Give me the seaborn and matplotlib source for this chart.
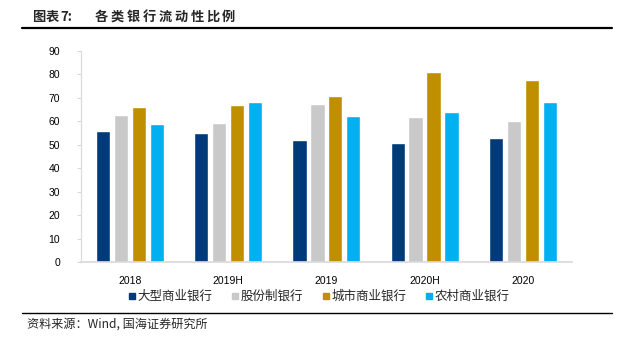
import matplotlib
matplotlib.use("Agg")
import matplotlib.pyplot as plt
from matplotlib.lines import Line2D
import seaborn as sns
import pandas as pd

periods = ["2018", "2019H", "2019", "2020H", "2020"]
bank_types = ["大型商业银行", "股份制银行", "城市商业银行", "农村商业银行"]
large_banks = [55.8, 55.0, 52.0, 50.6, 53.1]
joint_stock = [62.7, 59.4, 67.5, 61.7, 60.2]
city_banks = [66.1, 66.9, 70.9, 81.0, 77.6]
rural_banks = [58.7, 68.3, 62.5, 63.9, 68.2]
colors = ["#003A78", "#C9C9C9", "#BF8F00", "#00B0F0"]
yticks = [0, 10, 20, 30, 40, 50, 60, 70, 80, 90]

series = [large_banks, joint_stock, city_banks, rural_banks]
df = pd.DataFrame(
    [(p, b, v) for b, vals in zip(bank_types, series) for p, v in zip(periods, vals)],
    columns=["period", "bank", "ratio"],
)

sns.set_theme(style="white")
plt.rcParams["font.family"] = ["Liberation Sans", "Noto Sans CJK SC", "DejaVu Sans"]

fig = plt.figure(figsize=(6.21, 3.40), dpi=100)
ax = fig.add_axes([0.130, 0.229, 0.791, 0.621])

sns.barplot(
    data=df, x="period", y="ratio", hue="bank", order=periods, hue_order=bank_types,
    palette=colors, width=0.73, gap=0.2, saturation=1, errorbar=None, ax=ax,
    legend=False,
)

ax.set_ylim(0, 90)
ax.set_yticks(yticks)
ax.set_xlim(-0.5, 4.5)
ax.set_xlabel("")
ax.set_ylabel("")
for s in ["top", "right"]:
    ax.spines[s].set_visible(False)
ax.spines["left"].set_color("#D9D9D9")
ax.spines["left"].set_linewidth(0.8)
ax.spines["bottom"].set_color("#D9D9D9")
ax.spines["bottom"].set_linewidth(1.2)
ax.tick_params(axis="y", which="both", left=True, length=3, width=0.8,
               color="#D9D9D9", labelsize=7.5, pad=12, labelcolor="#000000")
ax.tick_params(axis="x", bottom=False, labelsize=7.5, pad=4, labelcolor="#000000")

handles = [Line2D([0], [0], marker="s", linestyle="", markersize=5,
                  markerfacecolor=c, markeredgecolor=c) for c in colors]
fig.legend(handles, bank_types, loc="center", bbox_to_anchor=(0.514, 0.128),
           ncol=4, frameon=False, handlelength=0.6, handletextpad=0.15,
           columnspacing=1.5, prop={"family": ["Noto Sans CJK SC"], "size": 9})

# header: title with letter-spaced characters
title_font = dict(fontsize=9.5, fontweight="bold", family=["Noto Sans CJK SC"],
                  va="center", ha="left")
for px, piece in [(32, "图"), (45.5, "表"), (60, "7:")]:
    fig.text(px / 621, 0.950, piece, **title_font)
for i, ch in enumerate("各类银行流动性比例"):
    fig.text((95 + i * 15.9) / 621, 0.950, ch, **title_font)
fig.add_artist(Line2D([0.035, 0.985], [0.917, 0.917], color="black", lw=1.6))

# footer
fig.add_artist(Line2D([0.035, 0.985], [0.080, 0.080], color="black", lw=1.0))
fig.text(0.044, 0.047, "资料来源：Wind, 国海证券研究所", fontsize=8.7,
         family=["Noto Sans CJK SC", "DejaVu Sans"], va="center", ha="left")

fig.savefig("out.png", dpi=100)
